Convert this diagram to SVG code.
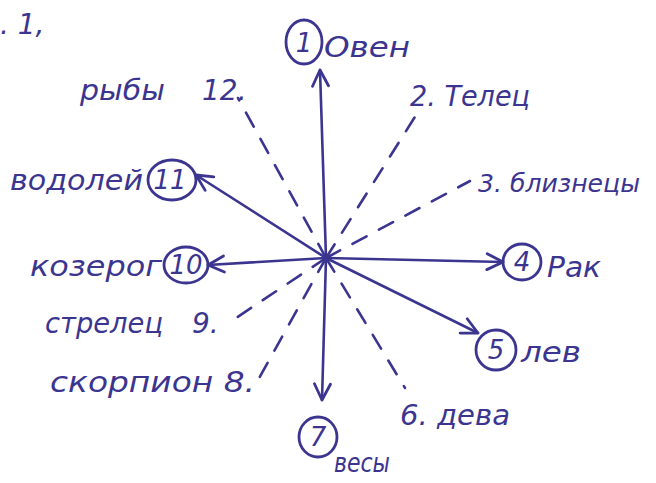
<svg xmlns="http://www.w3.org/2000/svg" width="656" height="483" viewBox="0 0 656 483">
<defs>
<marker id="arr" viewBox="0 0 20 20" refX="18" refY="10" markerWidth="20" markerHeight="20" markerUnits="userSpaceOnUse" orient="auto">
<path d="M2,2 L18,10 L2,18" fill="none" stroke="#3b3590" stroke-width="2.8" stroke-linecap="round" stroke-linejoin="round"/>
</marker>
<style>
.t{font-family:"DejaVu Sans","Liberation Sans",sans-serif;font-style:italic;fill:#3b3590;font-size:28px}
.c{fill:none;stroke:#3b3590;stroke-width:2.8}
.n{font-family:"DejaVu Sans","Liberation Sans",sans-serif;font-style:italic;fill:#3b3590;font-size:26px;text-anchor:middle}
.a{stroke:#3b3590;stroke-width:2.6;fill:none;stroke-linecap:round;marker-end:url(#arr)}
.d{stroke:#3b3590;stroke-width:2.6;fill:none;stroke-linecap:round;stroke-dasharray:16 14}
</style>
</defs>
<rect width="656" height="483" fill="#ffffff"/>
<text class="t" x="0" y="34">. 1,</text>
<g id="connectors">
<line class="a" x1="326" y1="258" x2="320" y2="70"/>
<line class="a" x1="326" y1="258" x2="196" y2="175"/>
<line class="a" x1="326" y1="258" x2="208" y2="265"/>
<line class="a" x1="326" y1="258" x2="503" y2="262"/>
<line class="a" x1="326" y1="258" x2="478" y2="333"/>
<line class="a" x1="326" y1="258" x2="322" y2="400"/>
<line class="d" x1="326" y1="258" x2="238" y2="98"/>
<line class="d" x1="326" y1="258" x2="418" y2="112"/>
<line class="d" x1="326" y1="258" x2="470" y2="181"/>
<line class="d" x1="326" y1="258" x2="405" y2="388"/>
<line class="d" x1="326" y1="258" x2="258" y2="380"/>
<line class="d" x1="326" y1="258" x2="230" y2="322"/>
</g>
<g id="n1"><ellipse class="c" cx="304" cy="42" rx="18" ry="22"/><text class="n" x="304" y="52">1</text><text class="t" x="324" y="57" textLength="86" lengthAdjust="spacingAndGlyphs">Овен</text></g>
<g id="n2"><text class="t" x="410" y="106" textLength="120" lengthAdjust="spacingAndGlyphs">2. Телец</text></g>
<g id="n3"><text class="t" x="478" y="192" style="font-size:25px" textLength="162" lengthAdjust="spacingAndGlyphs">3. близнецы</text></g>
<g id="n4"><ellipse class="c" cx="522" cy="262" rx="19" ry="18"/><text class="n" x="522" y="271">4</text><text class="t" x="547" y="277" textLength="54" lengthAdjust="spacingAndGlyphs">Рак</text></g>
<g id="n5"><ellipse class="c" cx="496" cy="350" rx="20" ry="20"/><text class="n" x="496" y="359">5</text><text class="t" x="521" y="362" textLength="60" lengthAdjust="spacingAndGlyphs">лев</text></g>
<g id="n6"><text class="t" x="400" y="425" textLength="110" lengthAdjust="spacingAndGlyphs">6. дева</text></g>
<g id="n7"><ellipse class="c" cx="318" cy="437" rx="19" ry="20"/><text class="n" x="318" y="446">7</text><text class="t" x="334" y="472" style="font-size:26px" textLength="56" lengthAdjust="spacingAndGlyphs">весы</text></g>
<g id="n8"><text class="t" x="50" y="392" textLength="205" lengthAdjust="spacingAndGlyphs">скорпион 8.</text></g>
<g id="n9"><text class="t" x="45" y="333" textLength="118" lengthAdjust="spacingAndGlyphs">стрелец</text><text class="t" x="192" y="333">9.</text></g>
<g id="n10"><ellipse class="c" cx="186" cy="265" rx="22" ry="18"/><text class="n" x="186" y="274">10</text><text class="t" x="30" y="276" textLength="132" lengthAdjust="spacingAndGlyphs">козерог</text></g>
<g id="n11"><ellipse class="c" cx="172" cy="180" rx="24" ry="20"/><text class="n" x="170" y="189">11</text><text class="t" x="10" y="190" textLength="133" lengthAdjust="spacingAndGlyphs">водолей</text></g>
<g id="n12"><text class="t" x="80" y="100" textLength="85" lengthAdjust="spacingAndGlyphs">рыбы</text><text class="t" x="202" y="100">12.</text></g>
</svg>
